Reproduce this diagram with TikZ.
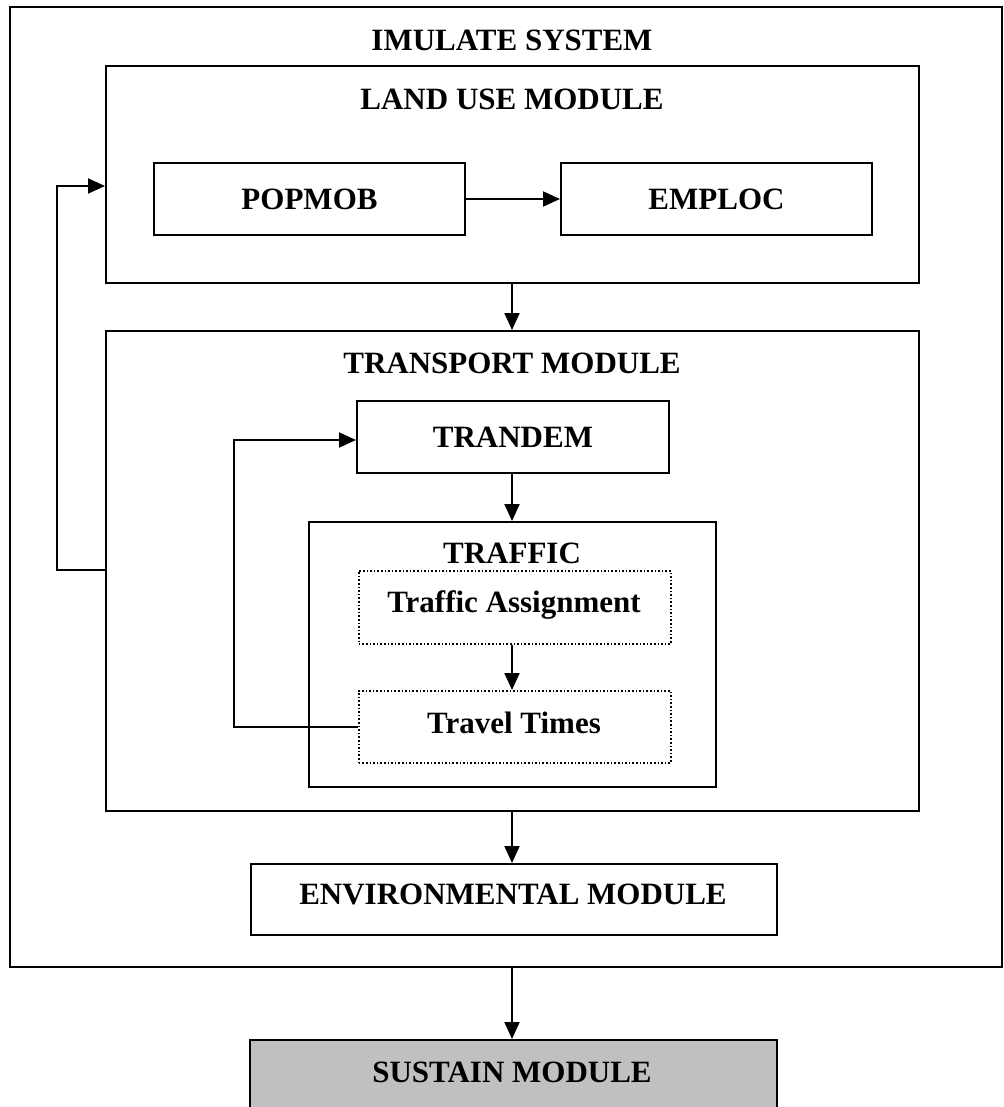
\documentclass[tikz,border=0pt]{standalone}
\usepackage{fontspec}
\setmainfont{Liberation Serif}
\usetikzlibrary{arrows.meta,positioning}
\definecolor{sgray}{RGB}{192,192,192}
\begin{document}
\begin{tikzpicture}[x=1pt,y=-1pt,
  every node/.style={font=\fontsize{31}{36}\selectfont\bfseries, inner sep=0pt},
  box/.style={draw, line width=2pt, rectangle, anchor=north west},
  dotbox/.style={draw, line width=1.6pt, dotted, rectangle, anchor=north west},
  arr/.style={line width=2pt, -{Triangle[length=17pt,width=15pt]}}]
\useasboundingbox (0,0) rectangle (1003,1107);
\clip (0,0) rectangle (1003,1107);
% outer system box
\node[box, minimum width=992pt, minimum height=960pt] (sys) at (9,6) {};
\node[anchor=base] (systitle) at (512,51) {IMULATE SYSTEM};
% land use
\node[box, minimum width=813pt, minimum height=217pt] (land) at (105,65) {};
\node[anchor=base] (landtitle) at (512,110) {LAND USE MODULE};
\node[box, minimum width=311pt, minimum height=72pt] (popmob) at (153,162) {};
\node (popmobt) at (popmob.center) {POPMOB};
\node[box, minimum width=311pt, minimum height=72pt] (emploc) at (560,162) {};
\node (emploct) at (emploc.center) {EMPLOC};
% transport
\node[box, minimum width=813pt, minimum height=480pt] (trans) at (105,330) {};
\node[anchor=base] (transtitle) at (512,373) {TRANSPORT MODULE};
\node[box, minimum width=312pt, minimum height=72pt] (trandem) at (356,400) {};
\node (trandemt) at (trandem.center) {TRANDEM};
\node[box, minimum width=407pt, minimum height=265pt] (traffic) at (308,521) {};
\node[anchor=base] (traffictitle) at (512,563) {TRAFFIC};
\node[dotbox, minimum width=312pt, minimum height=73pt] (assign) at (358,570) {};
\node[anchor=base] (assignt) at (514,612) {Traffic Assignment};
\node[dotbox, minimum width=312pt, minimum height=72pt] (ttimes) at (358,690) {};
\node[anchor=base] (ttimest) at (514,733) {Travel Times};
% environmental
\node[box, minimum width=526pt, minimum height=71pt] (env) at (250,863) {};
\node[anchor=base] (envt) at (513,904) {ENVIRONMENTAL MODULE};
% sustain
\node[box, fill=sgray, minimum width=527pt, minimum height=120pt] (sus) at (249,1039) {};
\node[anchor=base] (sust) at (512,1082) {SUSTAIN MODULE};
% connectors
\coordinate (cx) at (512,0);
\draw[arr] (popmob.east) -- (emploc.west);
\draw[arr] (cx |- land.south) -- (cx |- trans.north);
\draw[arr] (cx |- trandem.south) -- (cx |- traffic.north);
\draw[arr] (cx |- assign.south) -- (cx |- ttimes.north);
\draw[arr] (cx |- trans.south) -- (cx |- env.north);
\coordinate (sysbot) at (512,966);
\draw[arr] (sysbot) -- (cx |- sus.north);
\coordinate (lfb) at (105,186);
\draw[arr] (trans.west |- 0,570) -- (57,570) -- (57,186) -- (lfb);
\coordinate (tfb) at (234,0);
\draw[arr] (ttimes.west) -- (tfb |- ttimes.west) -- (tfb |- 0,440) -- (trandem.west |- 0,440);
\end{tikzpicture}
\end{document}
